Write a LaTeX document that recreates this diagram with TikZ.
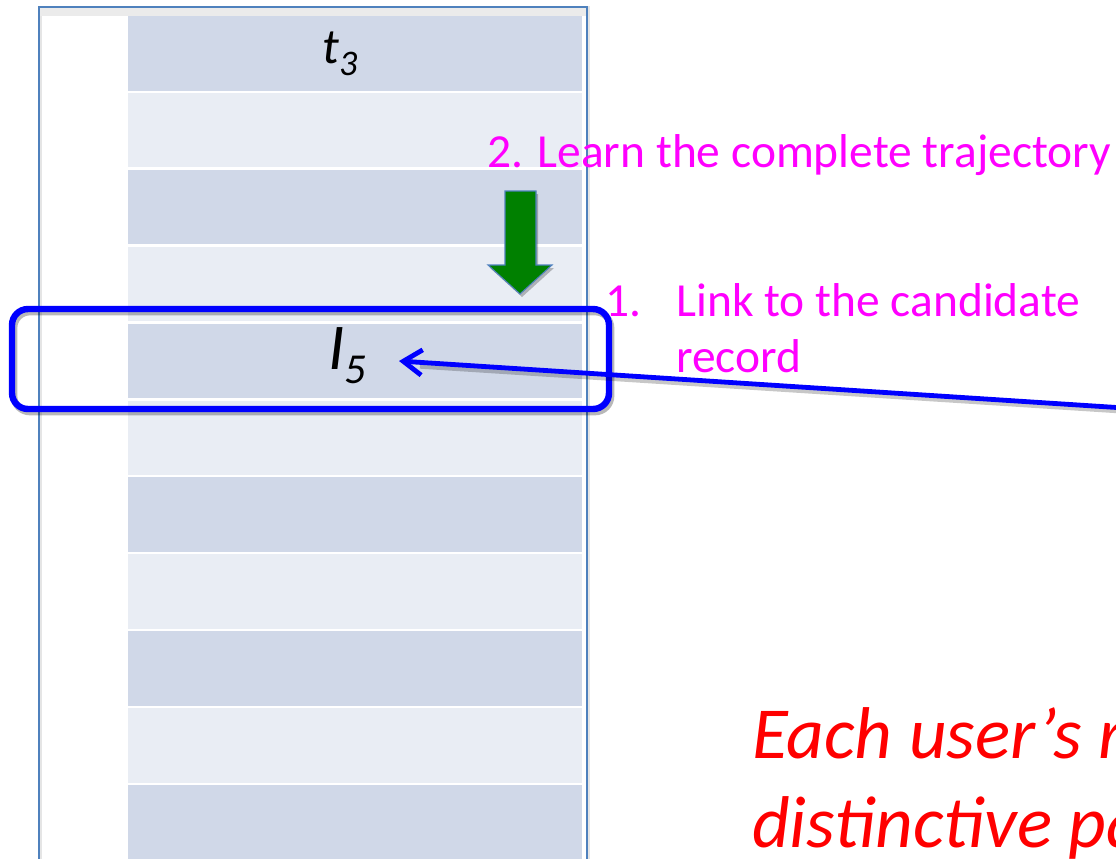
\documentclass[tikz,border=0pt]{standalone}
\usepackage{fontspec}
\setmainfont{Carlito}
\usetikzlibrary{arrows.meta}

\definecolor{framec}{HTML}{4F81BD}
\definecolor{rowdark}{HTML}{D0D8E8}
\definecolor{rowlight}{HTML}{E9EDF4}
\definecolor{topband}{HTML}{EBEBEB}
\definecolor{linkblue}{HTML}{0000FF}
\definecolor{stepmag}{HTML}{FF00FF}
\definecolor{notered}{HTML}{FF0000}
\definecolor{arrowgreen}{HTML}{008000}

\tikzset{
  framebox/.style={draw=framec, line width=1.1pt},
  frameshadow/.style={draw=black!40, line width=3pt, opacity=0.25},
  rowdarkfill/.style={fill=rowdark},
  rowlightfill/.style={fill=rowlight},
  cellsym/.style={inner sep=0pt, anchor=base west, text=black},
  steptext/.style={inner sep=0pt, anchor=base west, text=stepmag,
    font=\fontsize{35.6}{42}\selectfont},
  notetext/.style={inner sep=0pt, anchor=base west, text=notered,
    font=\fontsize{55}{66}\selectfont\itshape},
  selbox/.style={draw=linkblue, line width=4.8pt, rounded corners=12pt},
  selshadow/.style={draw=black, opacity=0.28, line width=5pt, rounded corners=12pt},
  linkarrow/.style={draw=linkblue, line width=3.6pt, line cap=round,
    -{Straight Barb[length=14pt, width=19pt, line width=3.6pt]}},
  linkshadow/.style={draw=black, opacity=0.22, line width=4pt},
  downarrow/.style={fill=arrowgreen, draw=framec, line width=0.8pt, line join=miter},
  downshadow/.style={fill=black, opacity=0.25},
}

\begin{document}
\begin{tikzpicture}[x=0.75pt, y=-0.75pt]
  \useasboundingbox (0,0) rectangle (1116,858);
  \clip (0,0) rectangle (1116,858);
  \fill[white] (0,0) rectangle (1116,858);

  % outer panel with its soft shadow and grey top strip
  \draw[frameshadow] (40,8) rectangle (588,880);
  \fill[topband] (40,8) rectangle (586,16);
  \draw[framebox] (39,7) rectangle (587,880);

  % alternating table rows
  \foreach \k in {0,...,10} {
    \pgfmathsetmacro{\rtop}{16+76.9*\k}
    \pgfmathsetmacro{\rbot}{\rtop+74.5}
    \pgfmathtruncatemacro{\odd}{mod(\k,2)}
    \ifnum\odd=0
      \fill[rowdarkfill] (128,\rtop) rectangle (582,\rbot);
    \else
      \fill[rowlightfill] (128,\rtop) rectangle (582,\rbot);
    \fi
  }

  % cell symbols
  \node[cellsym] (t3) at (322,63)
    {\fontsize{37.5}{44}\selectfont\itshape t\raisebox{-9pt}{\fontsize{27}{32}\selectfont 3}};
  \node[cellsym] (i5) at (328,369)
    {\fontsize{49}{58}\selectfont\itshape I\raisebox{-11pt}{\fontsize{32}{38}\selectfont 5}};

  % green block arrow pointing down
  \path[downshadow] (507,194) -- (538,194) -- (538,268) -- (554,268) -- (522,297)
    -- (490,268) -- (507,268) -- cycle;
  \path[downarrow] (505,191) -- (536,191) -- (536,265) -- (552,265) -- (520,294)
    -- (488,265) -- (505,265) -- cycle;

  % step labels
  \node[steptext] (learn) at (487,167) {2. Learn the complete trajectory};
  \node[steptext] (num1) at (605,316) {1.};
  \node[steptext] (link1) at (676,316) {Link to the candidate};
  \node[steptext] (link2) at (676,372) {record};

  % highlighted record
  \draw[selshadow] (14,312) rectangle (611,412);
  \draw[selbox] (12,309) rectangle (609,409);

  % link arrow entering from the right
  \coordinate (src) at (1140,409);
  \coordinate (tip) at (399,361);
  \coordinate (srcs) at (1140,412);
  \coordinate (tips) at (420,366);
  \draw[linkshadow] (srcs) -- (tips);
  \draw[linkarrow] (src) -- (tip);

  % note at the bottom right
  \node[notetext] (note1) at (752,758) {Each user’s records have};
  \node[notetext] (note2) at (752,847) {distinctive patterns};
\end{tikzpicture}
\end{document}
